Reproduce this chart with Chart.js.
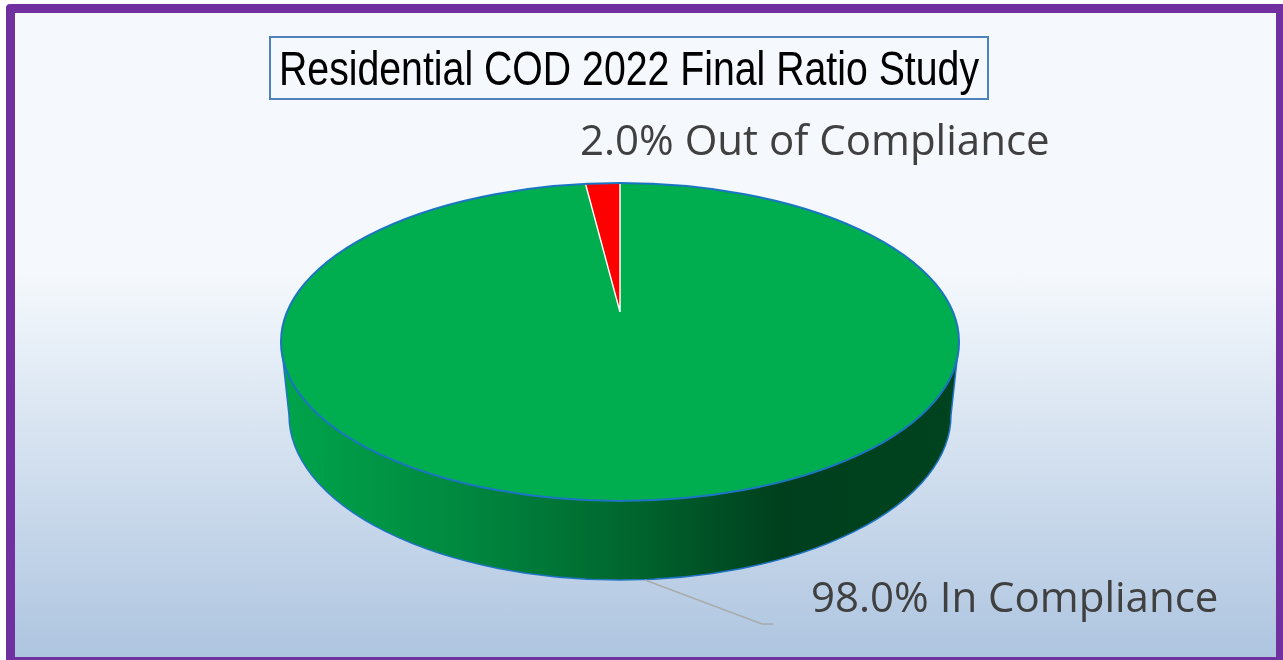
<!DOCTYPE html>
<html>
<head>
<meta charset="utf-8">
<title>Residential COD 2022 Final Ratio Study</title>
<script src="https://cdn.jsdelivr.net/npm/chart.js@4"></script>
<style>
html, body { margin: 0; padding: 0; width: 1283px; height: 660px; overflow: hidden; background: #fff; }
#frame {
    position: absolute; left: 6px; top: 4px; width: 1277px; height: 656px;
    box-sizing: border-box;
    border-style: solid; border-color: #7030a0; border-width: 9px 7px 3px 9px;
    border-radius: 4px 0 0 0;
    background: linear-gradient(180deg, #f5f9fd 0%, #f5f9fd 40%, #aec5e0 100%);
}
#chart { position: absolute; left: 0; top: 0; }
#titleBox {
    position: absolute; left: 269px; top: 36px; width: 720px; height: 64px; box-sizing: border-box;
    border: 2px solid #4f81bd; overflow: hidden; padding-left: 8px;
    font-family: "Liberation Sans", Arial, sans-serif; font-size: 49px; line-height: 60px; color: #000;
    white-space: nowrap;
}
#titleText { display: inline-block; transform-origin: 0 50%; }
</style>
</head>
<body>
<div id="frame"></div>
<canvas id="chart" width="1283" height="660"></canvas>
<div id="titleBox"><span id="titleText"></span></div>
<script>
const chartTitle = 'Residential COD 2022 Final Ratio Study';
const categories = ['In Compliance', 'Out of Compliance'];
const shares = [98.0, 2.0];
const sliceColors = ['#00ad4f', '#ff0000'];

// layout of the tilted pie
const faceEllipse = { cx: 620, cy: 342, rx: 339, ry: 159 };
const baseEllipse = { cx: 620, cy: 415, rx: 331, ry: 165 };
const apex = { x: 620, y: 312 };
const tilt = 0.469;
const labelSpots = [
    { x: 811, y: 612 },
    { x: 580, y: 155 }
];

// squeeze the title to the width it has in the reference
const titleEl = document.getElementById('titleText');
titleEl.textContent = chartTitle;
titleEl.style.transform = `scaleX(${700 / titleEl.getBoundingClientRect().width})`;

const pie3d = {
    id: 'pie3d',
    beforeDatasetDraw(chart) {
        const ctx = chart.ctx;
        const arc = chart.getDatasetMeta(0).data[0];

        // side wall
        const wall = ctx.createLinearGradient(faceEllipse.cx - faceEllipse.rx, 0, faceEllipse.cx + faceEllipse.rx, 0);
        wall.addColorStop(0, '#00a44b');
        wall.addColorStop(0.25, '#008a40');
        wall.addColorStop(0.5, '#00682f');
        wall.addColorStop(0.74, '#003f1d');
        wall.addColorStop(1, '#00431f');
        ctx.save();
        ctx.beginPath();
        ctx.moveTo(faceEllipse.cx - faceEllipse.rx, faceEllipse.cy);
        ctx.lineTo(baseEllipse.cx - baseEllipse.rx, baseEllipse.cy);
        ctx.ellipse(baseEllipse.cx, baseEllipse.cy, baseEllipse.rx, baseEllipse.ry, 0, Math.PI, 0, true);
        ctx.lineTo(faceEllipse.cx + faceEllipse.rx, faceEllipse.cy);
        ctx.closePath();
        ctx.fillStyle = wall;
        ctx.fill();
        ctx.strokeStyle = '#1f74c4';
        ctx.lineWidth = 1.5;
        ctx.stroke();
        ctx.restore();

        // the face: big pie around the apex, cut down to the top ellipse
        ctx.save();
        ctx.beginPath();
        ctx.ellipse(faceEllipse.cx, faceEllipse.cy, faceEllipse.rx, faceEllipse.ry, 0, 0, Math.PI * 2);
        ctx.clip();
        ctx.translate(apex.x, apex.y);
        ctx.scale(1, tilt);
        ctx.translate(-arc.x, -arc.y);
    },
    afterDatasetDraw(chart) {
        const ctx = chart.ctx;
        ctx.restore();
        ctx.save();
        ctx.beginPath();
        ctx.ellipse(faceEllipse.cx, faceEllipse.cy, faceEllipse.rx, faceEllipse.ry, 0, 0, Math.PI * 2);
        ctx.strokeStyle = '#1b75c2';
        ctx.lineWidth = 2;
        ctx.stroke();
        ctx.restore();
    },
    afterDraw(chart) {
        const ctx = chart.ctx;
        ctx.save();
        // leader line of the big slice
        ctx.beginPath();
        ctx.moveTo(645, 580);
        ctx.lineTo(762, 624);
        ctx.lineTo(773, 624);
        ctx.strokeStyle = '#a9abab';
        ctx.lineWidth = 1.5;
        ctx.stroke();
        // data labels
        ctx.font = '42px "Open Sans", sans-serif';
        ctx.fillStyle = '#404040';
        ctx.textBaseline = 'alphabetic';
        categories.forEach((name, i) => {
            ctx.fillText(`${shares[i].toFixed(1)}% ${name}`, labelSpots[i].x, labelSpots[i].y);
        });
        ctx.restore();
    }
};

new Chart(document.getElementById('chart'), {
    type: 'pie',
    data: {
        labels: categories,
        datasets: [{
            data: shares,
            backgroundColor: sliceColors,
            borderColor: ['rgba(0,0,0,0)', '#ffffff'],
            borderWidth: [0, 1.5],
            clip: false
        }]
    },
    options: {
        responsive: false,
        animation: false,
        devicePixelRatio: 1,
        radius: 440,
        layout: { padding: 0 },
        plugins: { legend: { display: false }, tooltip: { enabled: false }, title: { display: false } }
    },
    plugins: [pie3d]
});
</script>
</body>
</html>
